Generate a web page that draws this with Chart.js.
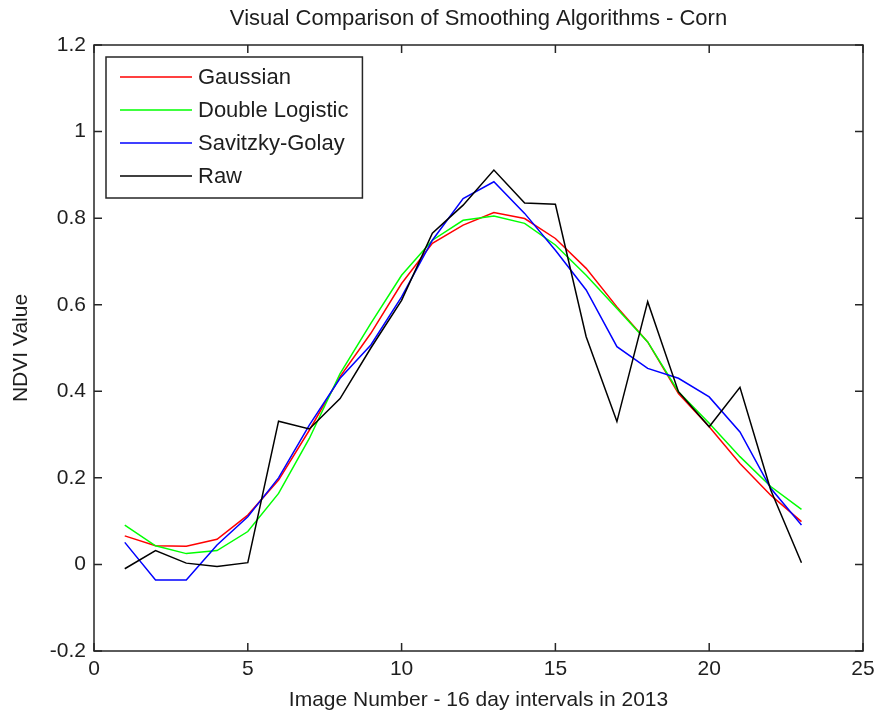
<!DOCTYPE html>
<html>
<head>
<meta charset="utf-8">
<title>Visual Comparison of Smoothing Algorithms - Corn</title>
<script src="https://cdn.jsdelivr.net/npm/chart.js@4.4.1/dist/chart.umd.min.js"></script>
<style>
  html, body { margin: 0; padding: 0; background: #fff; }
  #grafico { display: block; }
</style>
</head>
<body>
<canvas id="grafico" width="879" height="721"></canvas>
<script>
// NDVI da cultura de milho: curva bruta e tres suavizacoes, uma imagem a cada 16 dias (2013)

const imagens = [1, 2, 3, 4, 5, 6, 7, 8, 9, 10, 11, 12, 13, 14, 15, 16, 17, 18, 19, 20, 21, 22, 23];

const gaussian = [0.066, 0.043, 0.042, 0.058, 0.114, 0.195, 0.310, 0.434, 0.534, 0.649, 0.742, 0.784,
  0.813, 0.799, 0.753, 0.684, 0.595, 0.514, 0.395, 0.318, 0.233, 0.160, 0.099];
const doubleLogistic = [0.091, 0.043, 0.025, 0.032, 0.076, 0.164, 0.291, 0.441, 0.557, 0.668, 0.749, 0.795,
  0.805, 0.788, 0.738, 0.668, 0.591, 0.514, 0.399, 0.326, 0.249, 0.180, 0.127];
const savitzkyGolay = [0.051, -0.036, -0.036, 0.045, 0.110, 0.200, 0.322, 0.430, 0.507, 0.618, 0.749, 0.845,
  0.884, 0.811, 0.726, 0.634, 0.503, 0.453, 0.430, 0.387, 0.306, 0.176, 0.091];
const raw = [-0.010, 0.032, 0.003, -0.005, 0.004, 0.331, 0.313, 0.383, 0.500, 0.610, 0.765, 0.830,
  0.911, 0.835, 0.832, 0.526, 0.330, 0.607, 0.399, 0.318, 0.409, 0.172, 0.004];

const xTicks = [0, 5, 10, 15, 20, 25];
const xTickLabels = ['0', '5', '10', '15', '20', '25'];
const yTicks = [-0.2, 0, 0.2, 0.4, 0.6, 0.8, 1, 1.2];
const yTickLabels = ['-0.2', '0', '0.2', '0.4', '0.6', '0.8', '1', '1.2'];

const fonte = "'Liberation Sans', Arial, sans-serif";
const corTexto = '#1e1e1e';
const corEixo = '#262626';
const tamTick = 8;

function pontos(valores) {
  return imagens.map((x, i) => ({ x: x, y: valores[i] }));
}

// moldura fechada com ticks para dentro, nos quatro lados (estilo MATLAB)
const molduraMatlab = {
  id: 'molduraMatlab',
  afterDatasetsDraw(chart) {
    const { ctx, chartArea: a, scales: { x, y } } = chart;
    ctx.save();
    ctx.strokeStyle = corEixo;
    ctx.lineWidth = 1.5;
    ctx.strokeRect(a.left, a.top, a.right - a.left, a.bottom - a.top);
    ctx.beginPath();
    x.ticks.forEach(t => {
      const px = x.getPixelForValue(t.value);
      ctx.moveTo(px, a.bottom); ctx.lineTo(px, a.bottom - tamTick);
      ctx.moveTo(px, a.top); ctx.lineTo(px, a.top + tamTick);
    });
    y.ticks.forEach(t => {
      const py = y.getPixelForValue(t.value);
      ctx.moveTo(a.left, py); ctx.lineTo(a.left + tamTick, py);
      ctx.moveTo(a.right, py); ctx.lineTo(a.right - tamTick, py);
    });
    ctx.stroke();
    ctx.restore();
  }
};

// legenda dentro do grafico, canto superior esquerdo
const legendaCaixa = {
  id: 'legendaCaixa',
  afterDraw(chart) {
    const { ctx, chartArea: a } = chart;
    const datasets = chart.data.datasets;
    ctx.save();
    ctx.font = '22px ' + fonte;
    const larguraTexto = Math.max(...datasets.map(d => ctx.measureText(d.label).width));
    const x0 = a.left + 12, y0 = a.top + 12;
    const largura = 92 + larguraTexto + 14;
    const altura = 141;
    ctx.fillStyle = '#fff';
    ctx.fillRect(x0, y0, largura, altura);
    ctx.strokeStyle = corEixo;
    ctx.lineWidth = 1.5;
    ctx.strokeRect(x0, y0, largura, altura);
    datasets.forEach((d, i) => {
      const yl = y0 + 20 + i * 33;
      ctx.strokeStyle = d.borderColor;
      ctx.lineWidth = 1.5;
      ctx.beginPath();
      ctx.moveTo(x0 + 14, yl);
      ctx.lineTo(x0 + 86, yl);
      ctx.stroke();
      ctx.fillStyle = corTexto;
      ctx.textAlign = 'left';
      ctx.textBaseline = 'middle';
      ctx.fillText(d.label, x0 + 92, yl + 1);
    });
    ctx.restore();
  }
};

function serie(label, valores, cor, ordem) {
  return {
    label: label,
    data: pontos(valores),
    borderColor: cor,
    backgroundColor: cor,
    borderWidth: 1.5,
    pointRadius: 0,
    tension: 0,
    fill: false,
    order: ordem
  };
}

const ctx = document.getElementById('grafico').getContext('2d');
new Chart(ctx, {
  type: 'line',
  data: {
    datasets: [
      serie('Gaussian', gaussian, '#ff0000', 4),
      serie('Double Logistic', doubleLogistic, '#00ff00', 3),
      serie('Savitzky-Golay', savitzkyGolay, '#0000ff', 2),
      serie('Raw', raw, '#000000', 1)
    ]
  },
  options: {
    responsive: false,
    devicePixelRatio: 1,
    animation: false,
    events: [],
    layout: { padding: { left: 0, right: 16, top: 0, bottom: 0 } },
    plugins: {
      legend: { display: false },
      tooltip: { enabled: false },
      title: {
        display: true,
        fullSize: false,
        text: 'Visual Comparison of Smoothing Algorithms - Corn',
        color: corTexto,
        font: { family: fonte, size: 22, weight: 'normal', lineHeight: 1.2 },
        padding: { top: 6, bottom: 12.6 }
      }
    },
    scales: {
      x: {
        type: 'linear',
        min: 0,
        max: 25,
        afterBuildTicks: s => { s.ticks = xTicks.map(v => ({ value: v })); },
        afterFit: s => { s.height = 70; s.paddingLeft = 0; s.paddingRight = 0; },
        grid: { display: false, drawTicks: false },
        border: { display: false },
        ticks: {
          autoSkip: false,
          maxRotation: 0,
          padding: 6,
          color: corTexto,
          font: { family: fonte, size: 21, lineHeight: 1.2 },
          callback: (v, i) => xTickLabels[i]
        },
        title: {
          display: true,
          text: 'Image Number - 16 day intervals in 2013',
          color: corTexto,
          font: { family: fonte, size: 21, lineHeight: 1.2 },
          padding: { top: 0, bottom: 8 }
        }
      },
      y: {
        type: 'linear',
        min: -0.2,
        max: 1.2,
        afterBuildTicks: s => { s.ticks = yTicks.map(v => ({ value: v })); },
        afterFit: s => { s.width = 94; s.paddingTop = 0; s.paddingBottom = 0; },
        grid: { display: false, drawTicks: false },
        border: { display: false },
        ticks: {
          autoSkip: false,
          padding: 8,
          color: corTexto,
          font: { family: fonte, size: 21, lineHeight: 1.2 },
          callback: (v, i) => yTickLabels[i]
        },
        title: {
          display: true,
          text: 'NDVI Value',
          color: corTexto,
          font: { family: fonte, size: 21, lineHeight: 1.2 },
          padding: { top: 9, bottom: 0 }
        }
      }
    }
  },
  plugins: [molduraMatlab, legendaCaixa]
});
</script>
</body>
</html>
